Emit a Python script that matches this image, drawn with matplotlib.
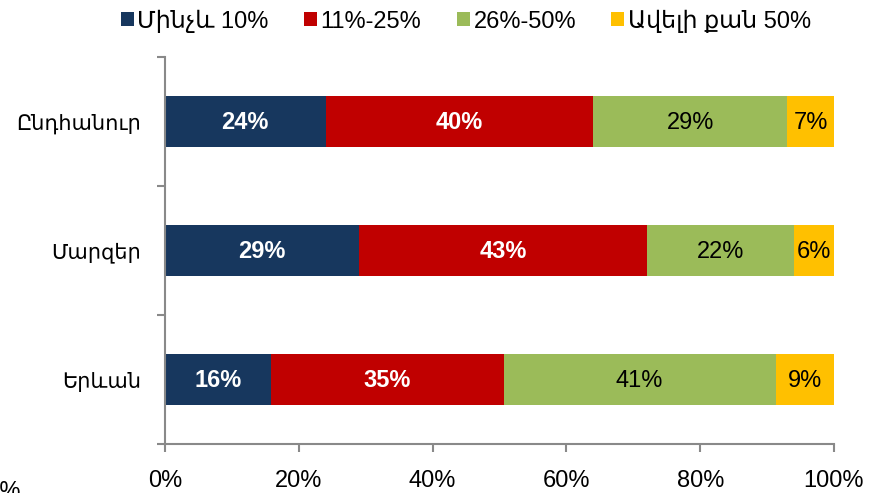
import matplotlib
matplotlib.use("Agg")
import matplotlib.pyplot as plt
import numpy as np

plt.rcParams['font.family'] = ['Liberation Sans', 'DejaVu Sans']

categories = ['Ընդհանուր', 'Մարզեր', 'Երևան']
series_names = ['Մինչև 10%', '11%-25%', '26%-50%', 'Ավելի քան 50%']
values = {
    'Մինչև 10%': [24, 29, 15.9],
    '11%-25%': [40, 43, 34.7],
    '26%-50%': [29, 22, 40.7],
    'Ավելի քան 50%': [7, 6, 8.7],
}
colors = ['#17375E', '#C00000', '#9BBB59', '#FFC000']
label_colors = ['white', 'white', 'black', 'black']
label_weights = ['bold', 'bold', 'normal', 'normal']
xticks = [0, 20, 40, 60, 80, 100]
xticklabels = ['0%', '20%', '40%', '60%', '80%', '100%']

fig = plt.figure(figsize=(8.79, 4.93), dpi=100)
ax = fig.add_axes([165/879, 49/493, (834-165)/879, (444-57)/493])

y = np.arange(len(categories))
left = np.zeros(len(categories))
for name, c, lc, lw in zip(series_names, colors, label_colors, label_weights):
    vals = np.array(values[name], dtype=float)
    ax.barh(y, vals, left=left, height=0.40, color=c, label=name,
            edgecolor='none')
    for yi, l, v in zip(y, left, vals):
        ax.text(l + v/2, yi + 0.01, f'{int(round(v))}%', ha='center', va='center',
                color=lc, fontsize=17, fontweight=lw)
    left += vals

ax.set_xlim(0, 100)
ax.set_ylim(2.5, -0.5)
ax.set_xticks(xticks)
ax.set_xticklabels(xticklabels, fontsize=17)
ax.set_yticks(y)
ax.set_yticklabels(categories, fontsize=15)
ax.tick_params(axis='y', which='major', length=0, pad=17)
ax.set_yticks([-0.5, 0.5, 1.5, 2.5], minor=True)
ax.tick_params(axis='y', which='minor', length=6, color='#898989', width=1.5, direction='out')
ax.tick_params(axis='x', which='major', length=6, color='#898989', width=1.5, direction='out', pad=13)

for s in ['top', 'right']:
    ax.spines[s].set_visible(False)
for s in ['left', 'bottom']:
    ax.spines[s].set_color('#898989')
    ax.spines[s].set_linewidth(1.5)

fig.legend(loc='center', bbox_to_anchor=(466/879, 1 - 21/493), ncol=4,
           frameon=False, fontsize=17, handlelength=0.55, handleheight=0.55,
           handletextpad=0.15, columnspacing=1.5, borderaxespad=0)

fig.text(21/879, 1 - 481/493, '100%', ha='right', va='top', fontsize=17)

fig.savefig('out.png', dpi=100)
